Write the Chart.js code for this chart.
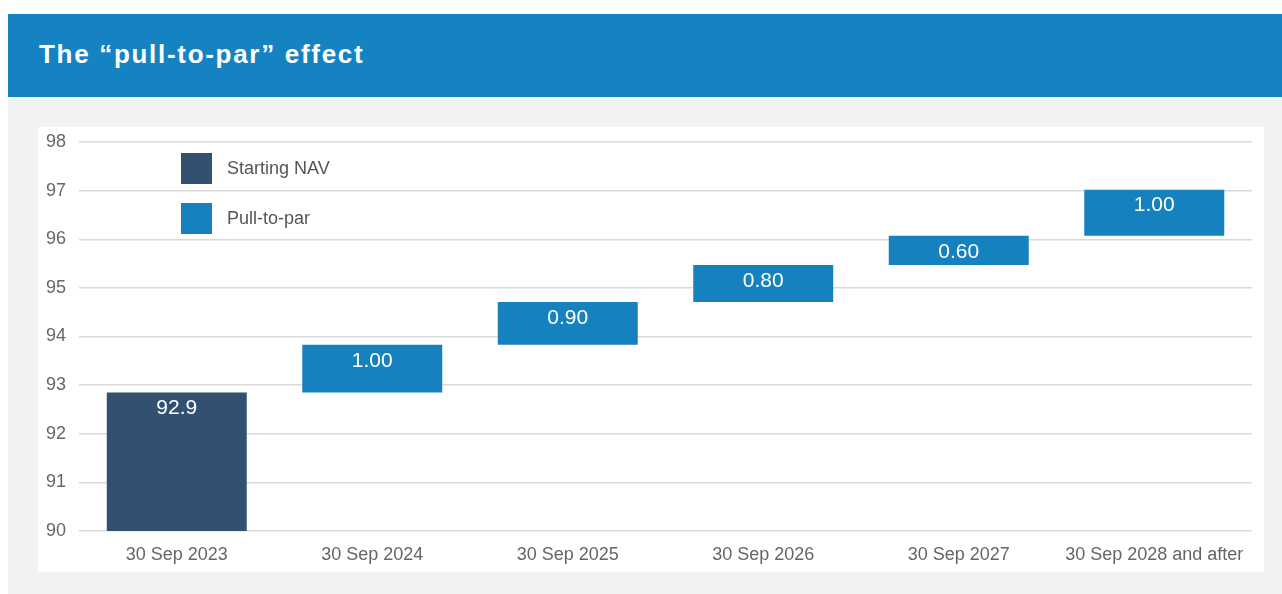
<!DOCTYPE html>
<html>
<head>
<meta charset="utf-8">
<script src="https://cdn.jsdelivr.net/npm/chart.js@4.4.1/dist/chart.umd.min.js"></script>
<style>
  html, body { margin: 0; padding: 0; background: #ffffff; }
  body { width: 1282px; height: 594px; position: relative; overflow: hidden; font-family: "Liberation Sans", Arial, sans-serif; }
  #header { position: absolute; left: 8px; top: 14px; width: 1274px; height: 83px; background: #1583C1; }
  #title { position: absolute; left: 39px; top: 41px; font-size: 26px; line-height: 26px; font-weight: bold; color: #ffffff; letter-spacing: 1.7px; white-space: nowrap; }
  #panel { position: absolute; left: 8px; top: 97px; width: 1274px; height: 497px; background: #F1F2F4; }
  #box { position: absolute; left: 38px; top: 127px; width: 1226px; height: 445px; background: #ffffff; }
</style>
</head>
<body>
<div id="header"></div>
<div id="title">The “pull-to-par” effect</div>
<div id="panel"></div>
<div id="box"><canvas id="c" width="1226" height="445"></canvas></div>
<script>
// ---- data ----
const categories = ["30 Sep 2023", "30 Sep 2024", "30 Sep 2025", "30 Sep 2026", "30 Sep 2027", "30 Sep 2028 and after"];
const barLows  = [90.00, 92.85, 93.83, 94.71, 95.47, 96.07];
const barHighs = [92.85, 93.83, 94.71, 95.47, 96.07, 97.02];
const valueLabels = ["92.9", "1.00", "0.90", "0.80", "0.60", "1.00"];
const seriesNames = ["Starting NAV", "Pull-to-par"];
const yTickValues = [90, 91, 92, 93, 94, 95, 96, 97, 98];

const startingData = categories.map((_, i) => i === 0 ? [barLows[i], barHighs[i]] : null);
const pullData = categories.map((_, i) => i === 0 ? null : [barLows[i], barHighs[i]]);

const colors = ["#32506F", "#1582BF"];

const labelPlugin = {
  id: 'valueLabels',
  afterDatasetsDraw(chart) {
    const ctx = chart.ctx;
    ctx.save();
    ctx.fillStyle = '#ffffff';
    ctx.font = '21px "Liberation Sans", Arial, sans-serif';
    ctx.textAlign = 'center';
    ctx.textBaseline = 'middle';
    chart.data.datasets.forEach((ds, di) => {
      const meta = chart.getDatasetMeta(di);
      meta.data.forEach((el, i) => {
        if (ds.data[i] == null) return;
        const top = Math.min(el.y, el.base);
        ctx.fillText(valueLabels[i], el.x, top + 16);
      });
    });
    ctx.restore();
  }
};

const legendPlugin = {
  id: 'boxLegend',
  afterDraw(chart) {
    const ctx = chart.ctx;
    ctx.save();
    ctx.font = '18px "Liberation Sans", Arial, sans-serif';
    ctx.textAlign = 'left';
    ctx.textBaseline = 'middle';
    chart.data.datasets.forEach((ds, di) => {
      const y = 26 + di * 50;
      ctx.fillStyle = ds.backgroundColor;
      ctx.fillRect(143, y, 31, 31);
      ctx.fillStyle = '#555555';
      ctx.fillText(ds.label, 189, y + 16);
    });
    ctx.restore();
  }
};

new Chart(document.getElementById('c'), {
  type: 'bar',
  data: {
    labels: categories,
    datasets: [
      { label: seriesNames[0], data: startingData, backgroundColor: colors[0], borderWidth: 0 },
      { label: seriesNames[1], data: pullData, backgroundColor: colors[1], borderWidth: 0 }
    ]
  },
  options: {
    responsive: false,
    animation: false,
    layout: { padding: { left: 0, right: 12, top: 15, bottom: 0 } },
    datasets: { bar: { grouped: false, categoryPercentage: 1.0, barPercentage: 0.716 } },
    plugins: { legend: { display: false }, tooltip: { enabled: false } },
    scales: {
      x: {
        grid: { display: false },
        border: { display: false },
        ticks: { color: '#666666', font: { family: '"Liberation Sans", Arial, sans-serif', size: 18 }, padding: 5, maxRotation: 0, autoSkip: false },
        afterFit(scale) { scale.height = 41; }
      },
      y: {
        min: 90, max: 98,
        afterBuildTicks(scale) { scale.ticks = yTickValues.map(v => ({ value: v })); },
        grid: { color: '#D9D9D9', lineWidth: 1.5, drawTicks: false },
        border: { display: false },
        ticks: { color: '#666666', font: { family: '"Liberation Sans", Arial, sans-serif', size: 18 }, padding: 13 },
        afterFit(scale) { scale.width = 41; scale.paddingTop = 0; scale.paddingBottom = 0; }
      }
    }
  },
  plugins: [labelPlugin, legendPlugin]
});
</script>
</body>
</html>
